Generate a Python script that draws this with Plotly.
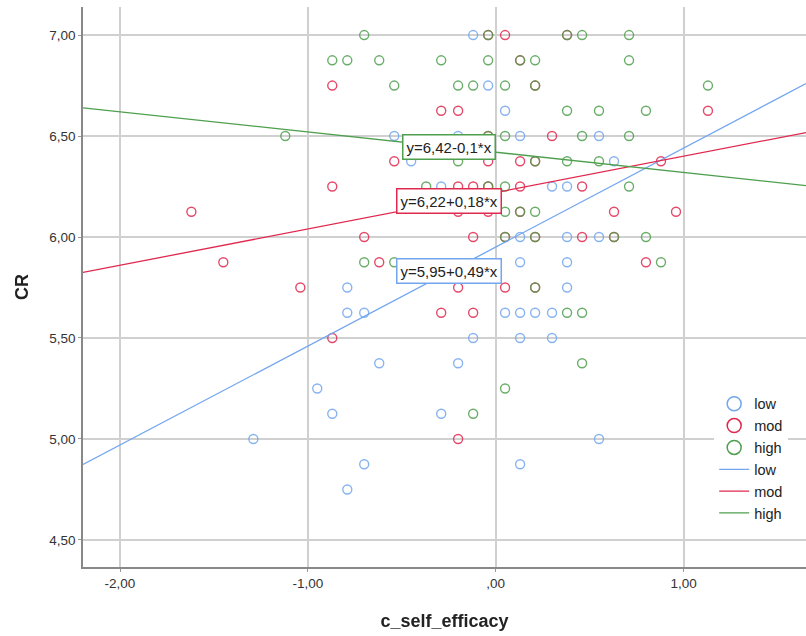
import plotly.graph_objects as go

# ---------------- data ----------------
groups = ["low", "mod", "high"]

low_x = [-0.12, -0.04, 0.05,
         -0.54, -0.20, 0.13, 0.55,
         -0.45, 0.63,
         -0.29, 0.30, 0.38,
         0.13, 0.38, 0.55,
         0.13, 0.38,
         -0.79, 0.38,
         -0.79, -0.70, 0.05, 0.13, 0.21, 0.30,
         -0.12, 0.13, 0.30,
         -0.62, -0.20,
         -0.95,
         -0.87, -0.29,
         -1.29, 0.55,
         -0.70, 0.13,
         -0.79]
low_y = [7.00, 6.75, 6.625,
         6.50, 6.50, 6.50, 6.50,
         6.375, 6.375,
         6.25, 6.25, 6.25,
         6.00, 6.00, 6.00,
         5.875, 5.875,
         5.75, 5.75,
         5.625, 5.625, 5.625, 5.625, 5.625, 5.625,
         5.50, 5.50, 5.50,
         5.375, 5.375,
         5.25,
         5.125, 5.125,
         5.00, 5.00,
         4.875, 4.875,
         4.75]

mod_x = [0.05, -0.04, 0.38,
         0.13,
         -0.87, 0.21,
         -0.29, -0.20, 1.13,
         -0.04, 0.30,
         -0.54, -0.04, 0.13, 0.21, 0.88,
         -0.87, -0.20, -0.12, -0.04, 0.13, 0.46,
         -1.62, -0.20, -0.04, 0.13, 0.63, 0.96,
         -0.70, -0.12, 0.05, 0.21, 0.46, 0.63,
         -1.45, -0.62, 0.80,
         -1.04, -0.20, 0.05, 0.21,
         -0.29, -0.12,
         -0.87,
         -0.20]
mod_y = [7.00, 7.00, 7.00,
         6.875,
         6.75, 6.75,
         6.625, 6.625, 6.625,
         6.50, 6.50,
         6.375, 6.375, 6.375, 6.375, 6.375,
         6.25, 6.25, 6.25, 6.25, 6.25, 6.25,
         6.125, 6.125, 6.125, 6.125, 6.125, 6.125,
         6.00, 6.00, 6.00, 6.00, 6.00, 6.00,
         5.875, 5.875, 5.875,
         5.75, 5.75, 5.75, 5.75,
         5.625, 5.625,
         5.50,
         5.00]

high_x = [-0.70, -0.04, 0.38, 0.46, 0.71,
          -0.87, -0.79, -0.62, -0.29, -0.04, 0.13, 0.21, 0.71,
          -0.54, -0.20, -0.12, 0.05, 0.21, 1.13,
          0.38, 0.55, 0.80,
          -1.12, -0.04, 0.05, 0.46, 0.71,
          -0.20, 0.21, 0.38, 0.55,
          -0.37, -0.04, 0.05, 0.71,
          0.05, 0.13, 0.21,
          0.05, 0.21, 0.63, 0.80,
          -0.70, -0.54, 0.88,
          0.21,
          0.38, 0.46,
          0.46,
          0.05,
          -0.12]
high_y = [7.00, 7.00, 7.00, 7.00, 7.00,
          6.875, 6.875, 6.875, 6.875, 6.875, 6.875, 6.875, 6.875,
          6.75, 6.75, 6.75, 6.75, 6.75, 6.75,
          6.625, 6.625, 6.625,
          6.50, 6.50, 6.50, 6.50, 6.50,
          6.375, 6.375, 6.375, 6.375,
          6.25, 6.25, 6.25, 6.25,
          6.125, 6.125, 6.125,
          6.00, 6.00, 6.00, 6.00,
          5.875, 5.875, 5.875,
          5.75,
          5.625, 5.625,
          5.375,
          5.25,
          5.125]

# fit lines (from the labels in the chart)
intercepts = [5.95, 6.22, 6.42]
slopes = [0.49, 0.18, -0.10]
fit_labels = ["y=5,95+0,49*x", "y=6,22+0,18*x", "y=6,42-0,1*x"]
label_y = [5.83, 6.18, 6.445]
label_x = -0.25

x_ticks = [-2, -1, 0, 1]
x_tick_text = ["-2,00", "-1,00", ",00", "1,00"]
y_ticks = [4.5, 5.0, 5.5, 6.0, 6.5, 7.0]
y_tick_text = ["4,50", "5,00", "5,50", "6,00", "6,50", "7,00"]

x_range = [-2.197, 1.652]
y_range = [4.366, 7.139]

colors = ["#72A6EE", "#E0294F", "#4E9F4E"]

# ---------------- figure ----------------
fig = go.Figure()
xs = [low_x, mod_x, high_x]
ys = [low_y, mod_y, high_y]
FONT = "Liberation Sans, Arial, sans-serif"

# scatter points
for i, g in enumerate(groups):
    fig.add_trace(go.Scatter(
        x=xs[i], y=ys[i], mode="markers", name=g, showlegend=False,
        marker=dict(symbol="circle-open", size=9, color=colors[i],
                    line=dict(width=1.4, color=colors[i])),
        opacity=0.85,
    ))

# legend entries for the markers (bigger symbols, as in the original legend)
for i, g in enumerate(groups):
    fig.add_trace(go.Scatter(
        x=[None], y=[None], mode="markers", name=g,
        marker=dict(symbol="circle-open", size=14, color=colors[i],
                    line=dict(width=1.5, color=colors[i])),
    ))

# fit lines
for i, g in enumerate(groups):
    lx = [x_range[0], x_range[1]]
    ly = [intercepts[i] + slopes[i] * v for v in lx]
    fig.add_trace(go.Scatter(
        x=lx, y=ly, mode="lines", name=g,
        line=dict(color=colors[i], width=1.3),
    ))

for i in range(3):
    fig.add_annotation(
        x=label_x, y=label_y[i], text=fit_labels[i], showarrow=False,
        xanchor="center", yanchor="middle",
        font=dict(family=FONT, size=15, color="#222222"),
        bgcolor="white", bordercolor=colors[i], borderwidth=1.5, borderpad=3,
    )

fig.update_layout(
    width=806, height=636,
    margin=dict(l=83, r=0, t=7, b=69),
    paper_bgcolor="white", plot_bgcolor="white",
    font=dict(family=FONT, color="#333333"),
    showlegend=True,
    legend=dict(
        x=0.873, y=0.32, xanchor="left", yanchor="top",
        bgcolor="white", borderwidth=0,
        font=dict(family=FONT, size=14.5, color="#222222"),
        itemsizing="trace", tracegroupgap=0,
    ),
)

fig.update_xaxes(
    range=x_range, tickvals=x_ticks, ticktext=x_tick_text,
    showgrid=True, gridcolor="#d0d0d0", gridwidth=1.6,
    zeroline=False, showline=True, linecolor="#888888", linewidth=1.5,
    ticks="outside", ticklen=3, tickcolor="#999999",
    tickfont=dict(family=FONT, size=13.5, color="#333333"),
    title=dict(text="c_self_efficacy", standoff=24,
               font=dict(family=FONT, size=18, color="#222222", weight="bold")),
)
fig.update_yaxes(
    range=y_range, tickvals=y_ticks, ticktext=y_tick_text,
    showgrid=True, gridcolor="#d0d0d0", gridwidth=1.6,
    zeroline=False, showline=True, linecolor="#888888", linewidth=1.5,
    ticks="outside", ticklen=3, tickcolor="#999999",
    tickfont=dict(family=FONT, size=13.5, color="#333333"),
    title=dict(text="CR", standoff=16,
               font=dict(family=FONT, size=18, color="#222222", weight="bold")),
)

fig.write_html(
    "out.html",
    config={"displayModeBar": False},
    post_script="document.body.style.margin='0';document.body.style.overflow='hidden';",
)
